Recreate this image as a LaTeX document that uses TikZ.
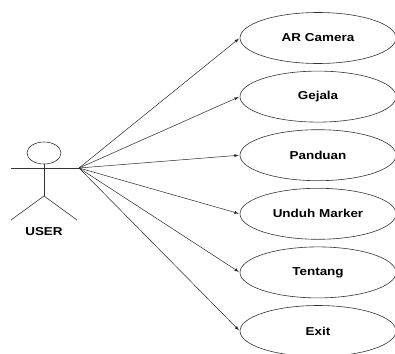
\documentclass[tikz,border=0pt]{standalone}
\usepackage{fontspec}
\setmainfont[FakeStretch=1.17]{Liberation Sans}
\usepackage{tikz}
\usetikzlibrary{shapes,arrows}

\begin{document}
\begin{tikzpicture}[
        x=1pt, y=-1pt,
        usecase/.style={ellipse, draw=black!80, line width=0.6pt, minimum width=156pt,
            minimum height=51pt, inner sep=0pt, font=\fontsize{11.5}{13}\selectfont\bfseries},
        link/.style={-latex, draw=black!85, line width=0.5pt, shorten >=1pt}
      ]
      \useasboundingbox (0,0) rectangle (395,353);
      % actor
      \draw[black!80, line width=0.6pt] (44,153) ellipse (17 and 11);
      \coordinate (neck) at (44,164);
      \coordinate (hip) at (44,196);
      \coordinate (lhand) at (11,168);
      \coordinate (rhand) at (79,168);
      \draw[black!80, line width=0.6pt] (neck) -- (hip);
      \draw[black!80, line width=0.6pt] (lhand) -- (rhand);
      \draw[black!80, line width=0.6pt] (11,220) -- (hip) -- (77,220);
      \node[font=\fontsize{11.5}{13}\selectfont\bfseries] (user) at (44,232) {USER};
      % use cases
      \foreach \name/\label [count=\i from 0] in {cam/AR Camera, gejala/Gejala, panduan/Panduan,
          unduh/Unduh Marker, tentang/Tentang, exit/Exit} {
          \node[usecase] (\name) at (318,38+58.6*\i) {\label};
          \draw[link] (rhand) -- (\name.west);
        }
    \end{tikzpicture}
\end{document}
